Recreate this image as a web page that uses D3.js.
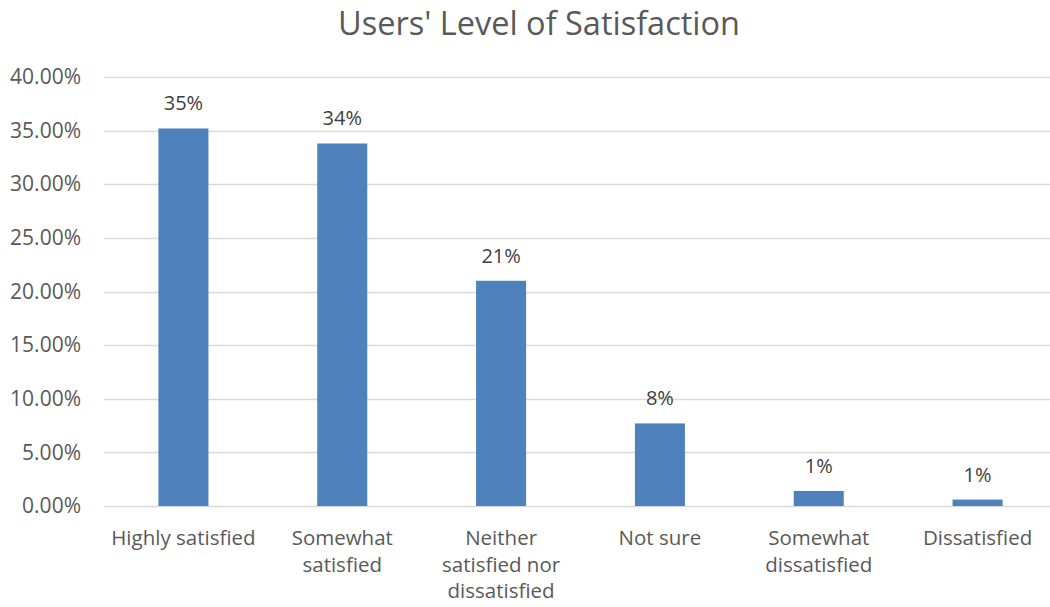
<!DOCTYPE html>
<html>
<head>
<meta charset="utf-8">
<script src="https://cdnjs.cloudflare.com/ajax/libs/d3/7.8.5/d3.min.js"></script>
<style>
  html, body { margin: 0; padding: 0; background: #ffffff; }
  svg { display: block; font-family: "Open Sans", "Liberation Sans", sans-serif; }
</style>
</head>
<body>
<svg id="chart" width="1050" height="607"></svg>
<script>
// Survey responses: share of users per satisfaction level
const categories = [
  ["Highly satisfied"],
  ["Somewhat", "satisfied"],
  ["Neither", "satisfied nor", "dissatisfied"],
  ["Not sure"],
  ["Somewhat", "dissatisfied"],
  ["Dissatisfied"]
];
const shares = [0.352, 0.338, 0.210, 0.077, 0.014, 0.006];
const yTicks = [0, 0.05, 0.10, 0.15, 0.20, 0.25, 0.30, 0.35, 0.40];
const chartTitle = "Users' Level of Satisfaction";

const svg = d3.select("#chart");
const textColor = "#595959";
const gridColor = "#d9d9d9";
const barColor = "#4f81bd";

const plot = { left: 104, right: 1057, top: 77, bottom: 506 };

const x = d3.scaleBand()
  .domain(d3.range(categories.length))
  .range([plot.left, plot.right])
  .paddingInner(0.685)
  .paddingOuter(0.3425);

const y = d3.scaleLinear()
  .domain([0, 0.4])
  .range([plot.bottom, plot.top]);

// Title
svg.append("text")
  .attr("x", 539)
  .attr("y", 35)
  .attr("text-anchor", "middle")
  .attr("fill", textColor)
  .style("font-size", "32.5px")
  .text(chartTitle);

// Horizontal gridlines
svg.append("g")
  .selectAll("line")
  .data(yTicks)
  .join("line")
  .attr("x1", plot.left)
  .attr("x2", plot.right)
  .attr("y1", d => Math.round(y(d)) + 0.5)
  .attr("y2", d => Math.round(y(d)) + 0.5)
  .attr("stroke", gridColor)
  .attr("stroke-width", 1.3);

// Y axis labels
const yAxis = d3.axisLeft(y)
  .tickValues(yTicks)
  .tickFormat(d3.format(".2%"))
  .tickSize(0)
  .tickPadding(0);

svg.append("g")
  .attr("transform", `translate(${plot.left - 23},0)`)
  .call(yAxis)
  .call(g => g.select(".domain").remove())
  .call(g => g.selectAll("text")
    .attr("fill", textColor)
    .style("font-size", "21px")
    .style("font-family", "'Open Sans', 'Liberation Sans', sans-serif"));

// Bars
svg.append("g")
  .selectAll("rect")
  .data(shares)
  .join("rect")
  .attr("x", (d, i) => x(i))
  .attr("width", x.bandwidth())
  .attr("y", d => y(d))
  .attr("height", d => y(0) - y(d))
  .attr("fill", barColor);

// Value labels above bars
svg.append("g")
  .selectAll("text")
  .data(shares)
  .join("text")
  .attr("x", (d, i) => x(i) + x.bandwidth() / 2)
  .attr("y", d => y(d) - 18)
  .attr("text-anchor", "middle")
  .attr("fill", "#404040")
  .style("font-size", "20px")
  .text(d => d3.format(".0%")(d));

// Category labels (multi-line)
const cat = svg.append("g")
  .selectAll("text")
  .data(categories)
  .join("text")
  .attr("x", (d, i) => x(i) + x.bandwidth() / 2)
  .attr("y", 545)
  .attr("text-anchor", "middle")
  .attr("fill", textColor)
  .style("font-size", "20.5px");

cat.each(function(lines, i) {
  d3.select(this).selectAll("tspan")
    .data(lines)
    .join("tspan")
    .attr("x", x(i) + x.bandwidth() / 2)
    .attr("dy", (d, j) => j === 0 ? 0 : 26.5)
    .text(d => d);
});
</script>
</body>
</html>
